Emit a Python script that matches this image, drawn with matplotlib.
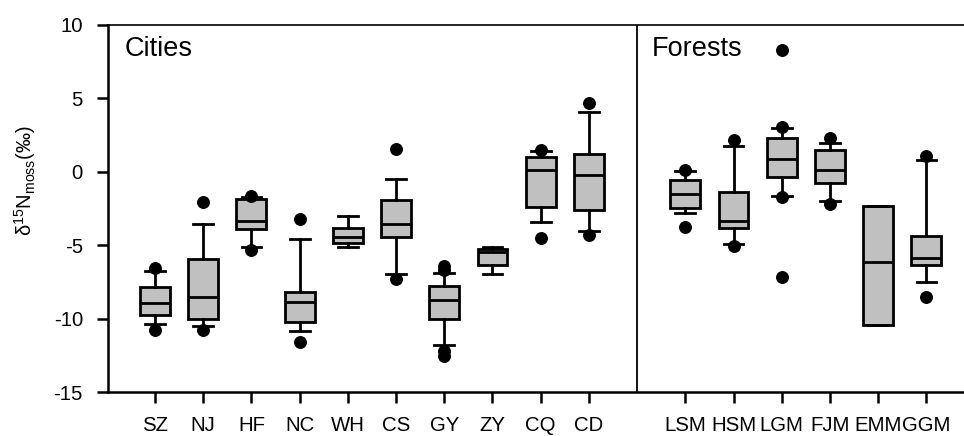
import matplotlib
matplotlib.use("Agg")
import matplotlib.pyplot as plt

plt.rcParams["font.family"] = ["Liberation Sans", "DejaVu Sans"]
plt.rcParams["mathtext.fontset"] = "custom"
plt.rcParams["mathtext.rm"] = "Liberation Sans"
plt.rcParams["mathtext.it"] = "Liberation Sans"
plt.rcParams["axes.unicode_minus"] = False

# ── Data ─────────────────────────────────────────────────────────────────────
cities = ["SZ", "NJ", "HF", "NC", "WH", "CS", "GY", "ZY", "CQ", "CD"]
forests = ["LSM", "HSM", "LGM", "FJM", "EMM", "GGM"]
labels = cities + forests

whislo = [-10.37, -10.53, -5.13, -10.87, -5.15, -6.99, -11.82, -6.95, -3.45, -4.02,
          -2.84, -4.93, -1.62, -2.00, -10.44, -7.49]
q1 = [-9.78, -10.01, -3.93, -10.21, -4.88, -4.43, -10.03, -6.35, -2.43, -2.61,
      -2.50, -3.86, -0.34, -0.75, -10.44, -6.36]
med = [-8.97, -8.56, -3.38, -8.90, -4.45, -3.57, -8.74, -5.45, 0.13, -0.23,
       -1.48, -3.34, 0.88, 0.11, -6.13, -5.90]
q3 = [-7.85, -5.95, -1.86, -8.17, -3.86, -1.91, -7.76, -5.28, 1.02, 1.20,
      -0.57, -1.41, 2.33, 1.47, -2.30, -4.34]
whishi = [-6.79, -3.57, -1.75, -4.59, -2.98, -0.50, -6.90, -5.15, 1.42, 4.08,
          0.04, 1.77, 2.99, 1.95, -2.30, 0.79]
fliers = [[-6.56, -10.80], [-2.09, -10.80], [-1.68, -5.31], [-3.20, -11.60], [],
          [1.56, -7.31], [-6.45, -6.70, -12.23, -12.53], [], [1.49, -4.50],
          [4.69, -4.31], [0.09, -3.73], [2.17, -5.04],
          [8.28, 3.04, -1.71, -7.15], [2.33, -2.18], [], [1.08, -8.56]]

# cities at 1..10, gap at 11 (divider), forests at 12..17
positions = list(range(1, len(cities) + 1)) + \
    list(range(len(cities) + 2, len(cities) + 2 + len(forests)))

stats = []
for i, lab in enumerate(labels):
    stats.append(dict(label=lab, whislo=whislo[i], q1=q1[i], med=med[i],
                      q3=q3[i], whishi=whishi[i], fliers=fliers[i]))

# ── Figure ───────────────────────────────────────────────────────────────────
fig = plt.figure(figsize=(9.64, 4.36), dpi=100)
ax = fig.add_axes([0.112, 0.1009, 0.888, 0.8418])

LW = 2.0
ax.bxp(stats, positions=positions, widths=0.62, capwidths=0.41,
       patch_artist=True, showfliers=True,
       boxprops=dict(facecolor="#c0c0c0", edgecolor="black", linewidth=LW),
       medianprops=dict(color="black", linewidth=LW),
       whiskerprops=dict(color="black", linewidth=LW),
       capprops=dict(color="black", linewidth=LW),
       flierprops=dict(marker="o", markerfacecolor="black",
                       markeredgecolor="black", markersize=8.3))

ax.axvline(len(cities) + 1, color="black", linewidth=1.3)

ax.set_xlim(0.025, 17.78)
ax.set_ylim(-15, 10)
ax.set_yticks([-15, -10, -5, 0, 5, 10])
ax.set_xticks(positions)
ax.set_xticklabels(labels)

ax.spines["left"].set_linewidth(1.8)
ax.spines["bottom"].set_linewidth(1.8)
ax.spines["top"].set_linewidth(1.2)
ax.spines["right"].set_visible(False)
ax.tick_params(axis="y", direction="out", length=8, width=1.8, pad=10,
               labelsize=14.7)
ax.tick_params(axis="x", direction="out", length=8, width=1.8, pad=9.5,
               labelsize=14.7)

ax.text(0.38, 8.37, "Cities", fontsize=19.5, ha="left", va="center")
ax.text(11.31, 8.37, "Forests", fontsize=19.5, ha="left", va="center")

fig.text(25 / 964, 1 - 181 / 436, "δ$^{15}$N$_{\\mathrm{moss}}$(‰)",
         rotation=90, ha="center", va="center", fontsize=14.5)

plt.savefig("out.png", dpi=100)
